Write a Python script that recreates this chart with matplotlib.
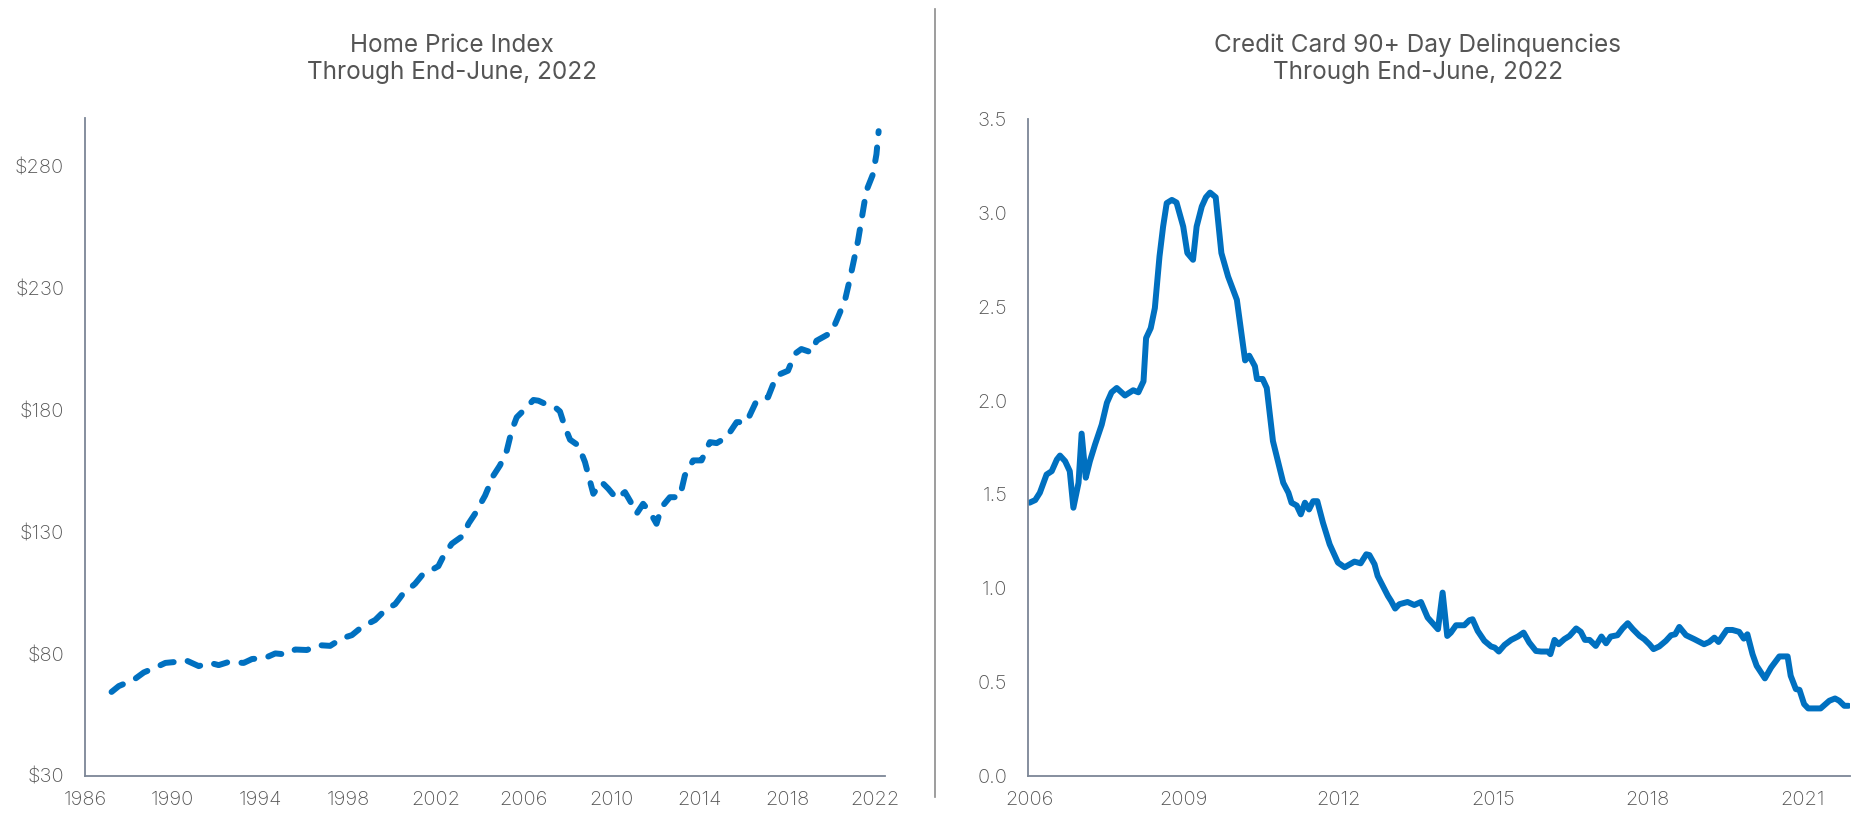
import numpy as np
import matplotlib.pyplot as plt

# Home price index, fractional years
hpi_year = [1987.21, 1987.54, 1987.99, 1988.30, 1988.68, 1989.21, 1989.66, 1990.12, 1990.57,
            1991.18, 1991.71, 1992.09, 1992.55, 1993.23, 1993.61, 1994.22, 1994.67, 1995.13,
            1995.58, 1996.11, 1996.64, 1997.17, 1997.71, 1998.16, 1998.62, 1999.22, 1999.68,
            2000.13, 2000.44, 2001.04, 2001.35, 2002.10, 2002.33, 2002.71, 2003.24, 2003.47,
            2003.77, 2004.23, 2004.61, 2004.91, 2005.22, 2005.44, 2005.67, 2006.05, 2006.43,
            2006.66, 2007.04, 2007.42, 2007.64, 2007.87, 2008.10, 2008.48, 2008.78, 2009.16,
            2009.54, 2009.84, 2010.22, 2010.60, 2010.91, 2011.13, 2011.43, 2011.74, 2012.04,
            2012.27, 2012.65, 2013.10, 2013.33, 2013.71, 2014.09, 2014.47, 2014.78, 2015.23,
            2015.69, 2016.14, 2016.60, 2017.12, 2017.51, 2018.03, 2018.34, 2018.64, 2019.10,
            2019.33, 2020.01, 2020.24, 2020.62, 2020.85, 2021.22, 2021.60, 2021.90, 2022.06,
            2022.16]
hpi_value = [64.5, 66.9, 68.6, 70.0, 72.5, 74.5, 76.4, 76.8, 77.6,
             75.1, 76.4, 75.5, 76.8, 76.4, 78.0, 78.5, 80.3, 79.9,
             81.9, 81.7, 83.7, 83.4, 86.5, 87.8, 91.2, 94.0, 98.1,
             100.5, 104.2, 108.9, 112.3, 116.1, 120.2, 125.3, 128.7, 133.5,
             137.6, 145.1, 153.3, 157.5, 163.6, 171.7, 177.2, 180.6, 184.3,
             184.0, 182.4, 181.3, 179.6, 173.1, 168.0, 165.6, 158.8, 145.8,
             150.6, 147.9, 143.8, 146.5, 141.7, 137.6, 141.7, 138.3, 133.5,
             140.3, 144.4, 144.4, 153.3, 159.5, 159.5, 167.0, 166.6, 169.0,
             175.2, 175.2, 184.0, 185.4, 194.3, 196.3, 203.2, 205.2, 203.8,
             208.6, 212.0, 216.8, 225.0, 233.9, 249.6, 270.1, 276.9, 285.1,
             294.6]

# Credit card 90+ day delinquencies
cc_year = [2006.01, 2006.12, 2006.21, 2006.34, 2006.44, 2006.54, 2006.60, 2006.70, 2006.79,
           2006.86, 2006.96, 2007.02, 2007.10, 2007.18, 2007.28, 2007.41, 2007.51, 2007.60,
           2007.70, 2007.86, 2008.02, 2008.12, 2008.22, 2008.27, 2008.36, 2008.44, 2008.53,
           2008.60, 2008.67, 2008.77, 2008.86, 2008.99, 2009.07, 2009.18, 2009.25, 2009.35,
           2009.43, 2009.51, 2009.62, 2009.73, 2009.86, 2010.03, 2010.19, 2010.27, 2010.38,
           2010.42, 2010.53, 2010.61, 2010.73, 2010.93, 2011.03, 2011.09, 2011.19, 2011.27,
           2011.35, 2011.43, 2011.51, 2011.59, 2011.70, 2011.83, 2011.99, 2012.12, 2012.31,
           2012.43, 2012.54, 2012.60, 2012.70, 2012.76, 2012.86, 2012.96, 2013.02, 2013.10,
           2013.18, 2013.34, 2013.47, 2013.60, 2013.73, 2013.93, 2014.02, 2014.11, 2014.18,
           2014.28, 2014.44, 2014.54, 2014.60, 2014.70, 2014.83, 2014.96, 2015.03, 2015.11,
           2015.22, 2015.35, 2015.48, 2015.59, 2015.70, 2015.83, 2015.93, 2016.06, 2016.11,
           2016.19, 2016.27, 2016.38, 2016.48, 2016.61, 2016.70, 2016.78, 2016.87, 2016.99,
           2017.10, 2017.19, 2017.28, 2017.41, 2017.51, 2017.61, 2017.71, 2017.84, 2017.93,
           2018.03, 2018.11, 2018.22, 2018.35, 2018.45, 2018.53, 2018.61, 2018.74, 2018.90,
           2019.09, 2019.19, 2019.29, 2019.37, 2019.53, 2019.64, 2019.77, 2019.86, 2019.93,
           2020.03, 2020.11, 2020.27, 2020.39, 2020.55, 2020.71, 2020.77, 2020.87, 2020.94,
           2021.03, 2021.11, 2021.35, 2021.52, 2021.63, 2021.71, 2021.81, 2021.89]
cc_value = [1.456, 1.470, 1.509, 1.606, 1.624, 1.686, 1.707, 1.677, 1.624,
            1.429, 1.562, 1.824, 1.589, 1.677, 1.766, 1.872, 1.988, 2.044,
            2.067, 2.027, 2.055, 2.044, 2.103, 2.333, 2.386, 2.493, 2.768,
            2.927, 3.052, 3.069, 3.055, 2.927, 2.786, 2.750, 2.927, 3.034,
            3.083, 3.108, 3.083, 2.786, 2.661, 2.537, 2.214, 2.239, 2.183,
            2.115, 2.115, 2.067, 1.784, 1.562, 1.509, 1.456, 1.441, 1.394,
            1.456, 1.420, 1.464, 1.464, 1.349, 1.234, 1.137, 1.112, 1.142,
            1.133, 1.181, 1.177, 1.128, 1.066, 1.012, 0.959, 0.933, 0.892,
            0.915, 0.927, 0.911, 0.927, 0.844, 0.782, 0.977, 0.746, 0.764,
            0.803, 0.803, 0.830, 0.835, 0.773, 0.720, 0.690, 0.684, 0.663,
            0.698, 0.725, 0.743, 0.764, 0.711, 0.666, 0.663, 0.663, 0.649,
            0.725, 0.702, 0.729, 0.746, 0.786, 0.768, 0.725, 0.725, 0.693,
            0.743, 0.707, 0.743, 0.750, 0.786, 0.814, 0.782, 0.746, 0.729,
            0.702, 0.676, 0.690, 0.720, 0.750, 0.755, 0.794, 0.750, 0.729,
            0.702, 0.714, 0.737, 0.714, 0.778, 0.778, 0.768, 0.732, 0.755,
            0.649, 0.587, 0.520, 0.578, 0.637, 0.637, 0.534, 0.463, 0.459,
            0.383, 0.360, 0.360, 0.401, 0.413, 0.401, 0.374, 0.374]

hpi_ticks = [30, 80, 130, 180, 230, 280]
hpi_years = list(range(1986, 2023, 4))
cc_ticks = [0.0, 0.5, 1.0, 1.5, 2.0, 2.5, 3.0, 3.5]
cc_years = [2006, 2009, 2012, 2015, 2018, 2021]

title_left = "Home Price Index\nThrough End-June, 2022"
title_right = "Credit Card 90+ Day Delinquencies\nThrough End-June, 2022"

BLUE = "#0070C0"
TEXT = "#555555"
SPINE = "#7c8696"

plt.rcParams["font.family"] = ["Inter", "DejaVu Sans"]

fig = plt.figure(figsize=(18.58, 8.15), dpi=100)
ax1 = fig.add_axes([85 / 1858, 1 - 776 / 815, 800 / 1858, 658 / 815])
ax2 = fig.add_axes([1028 / 1858, 1 - 776 / 815, 822 / 1858, 657 / 815])

ax1.plot(hpi_year, hpi_value, color=BLUE, lw=4.3, linestyle=(0, (2.3, 2.4)),
         dash_capstyle="round", solid_joinstyle="round")
ax1.set_xlim(1986, 2022.45)
ax1.set_ylim(30, 300)
ax1.set_yticks(hpi_ticks)
ax1.set_yticklabels(["$%d" % v for v in hpi_ticks])
ax1.set_xticks(hpi_years)

ax2.plot(cc_year, cc_value, color=BLUE, lw=4.3, solid_capstyle="round",
         solid_joinstyle="round")
ax2.set_xlim(2005.98, 2021.92)
ax2.set_ylim(0, 3.5)
ax2.set_yticks(cc_ticks)
ax2.set_yticklabels(["%.1f" % v for v in cc_ticks])
ax2.set_xticks(cc_years)

for ax in (ax1, ax2):
    for s in ("top", "right"):
        ax.spines[s].set_visible(False)
    for s in ("left", "bottom"):
        ax.spines[s].set_color(SPINE)
        ax.spines[s].set_linewidth(1.3)
    ax.tick_params(length=0, labelsize=14.5, labelcolor=TEXT)
    ax.tick_params(axis="y", pad=15)
    ax.tick_params(axis="x", pad=11)
    for lab in ax.get_xticklabels() + ax.get_yticklabels():
        lab.set_fontweight("light")
    ax.set_facecolor("none")

fig.text(452 / 1858, 1 - 59 / 815, title_left, ha="center", va="center",
         fontsize=17.5, color=TEXT, linespacing=1.25)
fig.text(1418 / 1858, 1 - 59 / 815, title_right, ha="center", va="center",
         fontsize=17.5, color=TEXT, linespacing=1.25)

# divider between the two panels
fig.add_artist(plt.Line2D([935 / 1858, 935 / 1858], [1 - 797 / 815, 1 - 9 / 815],
                          color="#8c8c8c", lw=1.2))

fig.savefig("out.png", dpi=100)
